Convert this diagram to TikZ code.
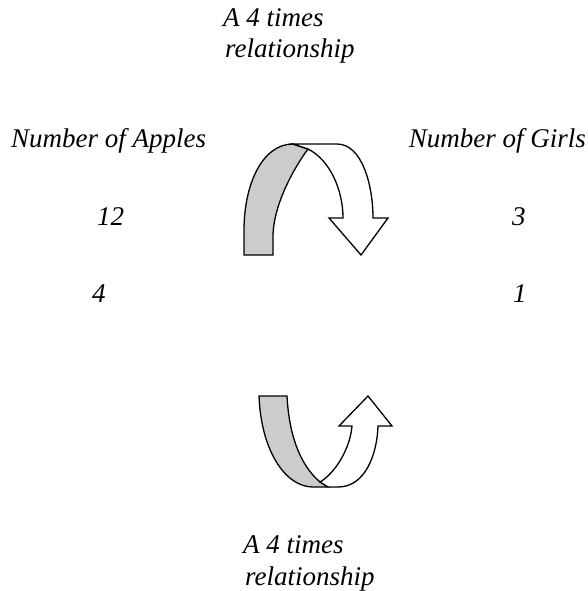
\documentclass[tikz,border=0pt]{standalone}
\usepackage{fontspec}
\setmainfont{Liberation Serif}
\definecolor{bandgray}{RGB}{204,204,204}
\tikzset{
  lbl/.style={inner sep=0pt, font=\fontsize{27}{32}\selectfont\itshape},
  band/.style={draw=black, line width=1.3pt, line join=miter},
}
\begin{document}
\begin{tikzpicture}[x=1pt,y=-1pt]
\useasboundingbox (0,0) rectangle (588,591);
% texts
\node[lbl, anchor=base west] (t1) at (223,27) {A 4 times};
\node[lbl, anchor=base west] (t2) at (225,58) {relationship};
\node[lbl, anchor=base west] (apples) at (11,147) {Number of Apples};
\node[lbl, anchor=base east] (girls) at (586,147) {Number of Girls};
\node[lbl, anchor=base west] (n12) at (97,225) {12};
\node[lbl, anchor=base west] (n3) at (512,225) {3};
\node[lbl, anchor=base west] (n4) at (92,302) {4};
\node[lbl, anchor=base west] (n1) at (513,302) {1};
\node[lbl, anchor=base west] (b1) at (243,553) {A 4 times};
\node[lbl, anchor=base west] (b2) at (245,585) {relationship};
% top arrow
\path[band, fill=bandgray] (244,255) -- (244,230) .. controls (244,185) and (262,144) .. (293,144)
  -- (308,149) .. controls (301,158) and (273,200) .. (273,237) -- (273,255) -- cycle;
\path[band, fill=white] (293,144) -- (337,144) .. controls (362,144) and (373,185) .. (373,218)
  -- (388,218) -- (361,255) -- (329,218) -- (343,218)
  .. controls (343,190) and (330,160) .. (308,149) -- cycle;
% bottom arrow
\path[band, fill=bandgray] (259,396) -- (287,396) .. controls (289,435) and (300,465) .. (320,482)
  -- (328,487) -- (313,487) .. controls (285,487) and (261,450) .. (259,396) -- cycle;
\path[band, fill=white] (320,482) .. controls (334,474) and (350,450) .. (352,426)
  -- (339,426) -- (368,396) -- (392,426) -- (378,426)
  .. controls (377,455) and (365,487) .. (338,487) -- (328,487) -- cycle;
\end{tikzpicture}
\end{document}
